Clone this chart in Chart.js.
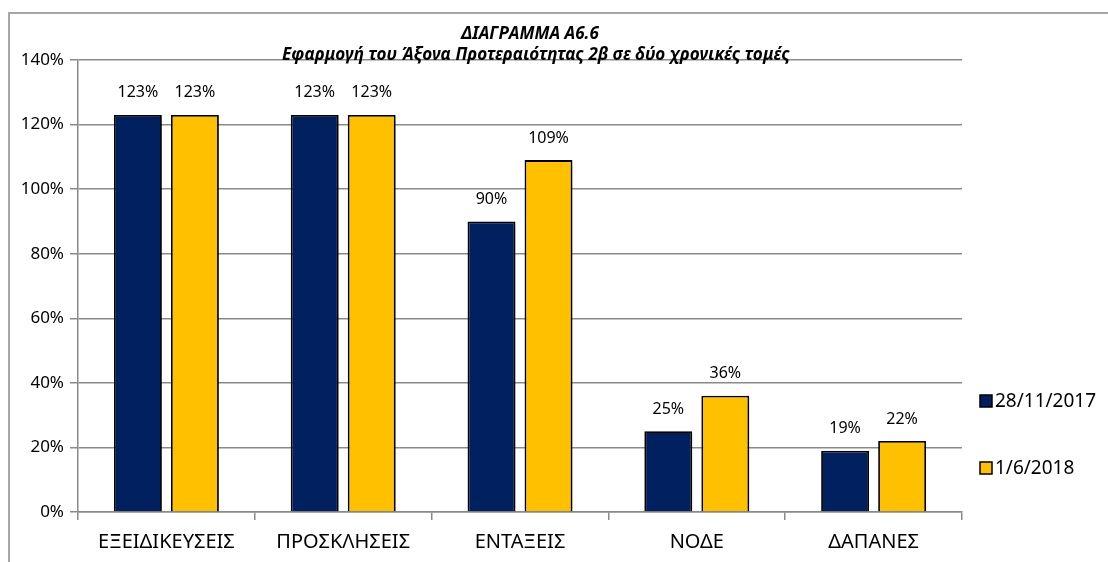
<!DOCTYPE html>
<html>
<head>
<meta charset="utf-8">
<script src="https://cdn.jsdelivr.net/npm/chart.js@4/dist/chart.umd.min.js"></script>
<style>
  html, body { margin: 0; padding: 0; background: #fff; }
  #wrap { width: 1108px; height: 562px; }
</style>
</head>
<body>
<div id="wrap"><canvas id="chart" width="1108" height="562"></canvas></div>
<script>
const categories = ['ΕΞΕΙΔΙΚΕΥΣΕΙΣ', 'ΠΡΟΣΚΛΗΣΕΙΣ', 'ΕΝΤΑΞΕΙΣ', 'ΝΟΔΕ', 'ΔΑΠΑΝΕΣ'];
const seriesNames = ['28/11/2017', '1/6/2018'];
const values2017 = [123, 123, 90, 25, 19];
const values2018 = [123, 123, 109, 36, 22];
const titleLines = ['ΔΙΑΓΡΑΜΜΑ Α6.6', 'Εφαρμογή του Άξονα Προτεραιότητας 2β σε δύο χρονικές τομές'];

const FONT = '"Noto Sans", "Open Sans", sans-serif';
const colors = ['#002060', '#FFC000'];

// frame, title, value labels and legend drawn by hand
const decor = {
  id: 'decor',
  beforeDraw(chart) {
    const ctx = chart.ctx;
    ctx.save();
    ctx.strokeStyle = '#a6a6a6';
    ctx.lineWidth = 2;
    ctx.beginPath();
    ctx.moveTo(9, 562);
    ctx.lineTo(9, 13);
    ctx.lineTo(1108, 13);
    ctx.stroke();
    ctx.restore();
  },
  beforeDatasetsDraw(chart) {
    const ctx = chart.ctx;
    ctx.save();
    ctx.shadowColor = 'rgba(0,0,0,0.3)';
    ctx.shadowBlur = 5;
    ctx.shadowOffsetX = 3;
    ctx.shadowOffsetY = 3;
  },
  afterDatasetsDraw(chart) {
    const ctx = chart.ctx;
    ctx.restore();
    ctx.save();
    ctx.fillStyle = '#000';
    ctx.font = '16px ' + FONT;
    ctx.textAlign = 'center';
    ctx.textBaseline = 'middle';
    chart.data.datasets.forEach((ds, i) => {
      chart.getDatasetMeta(i).data.forEach((bar, j) => {
        ctx.fillText(ds.data[j] + '%', bar.x, bar.y - 22);
      });
    });
    // title
    const cx = (chart.chartArea.left + chart.chartArea.right) / 2 + 16;
    ctx.font = 'italic bold 17px ' + FONT;
    ctx.fillText(titleLines[0], cx - 6, 34);
    ctx.fillText(titleLines[1], cx, 55);
    // legend
    ctx.font = '19px ' + FONT;
    ctx.textAlign = 'left';
    const ys = [401, 468];
    chart.data.datasets.forEach((ds, i) => {
      ctx.fillStyle = ds.backgroundColor;
      ctx.fillRect(980, ys[i] - 6, 12, 12);
      ctx.strokeStyle = '#000';
      ctx.lineWidth = 1.5;
      ctx.strokeRect(980, ys[i] - 6, 12, 12);
      ctx.fillStyle = '#000';
      ctx.fillText(ds.label, 995, ys[i] + 1);
    });
    ctx.restore();
  }
};

new Chart(document.getElementById('chart').getContext('2d'), {
  type: 'bar',
  data: {
    labels: categories,
    datasets: [
      { label: seriesNames[0], data: values2017, backgroundColor: colors[0], borderColor: '#000', borderWidth: 1.8 },
      { label: seriesNames[1], data: values2018, backgroundColor: colors[1], borderColor: '#000', borderWidth: 1.8 }
    ]
  },
  options: {
    responsive: false,
    animation: false,
    events: [],
    datasets: { bar: { categoryPercentage: 0.645, barPercentage: 0.84 } },
    layout: { padding: { left: 8, top: 60, right: 146, bottom: 0 } },
    plugins: { legend: { display: false }, title: { display: false }, tooltip: { enabled: false } },
    scales: {
      x: {
        afterFit: (s) => { s.height = 50; },
        grid: { drawOnChartArea: false, offset: true, color: '#8a8a8a', lineWidth: 1.5, tickLength: 8 },
        border: { color: '#8a8a8a', width: 1.5 },
        ticks: { color: '#000', font: { family: FONT, size: 20 }, padding: 10 }
      },
      y: {
        min: 0,
        max: 140,
        afterFit: (s) => { s.width = 70; },
        grid: { color: '#8a8a8a', lineWidth: 1.5, tickLength: 8 },
        border: { color: '#8a8a8a', width: 1.5 },
        ticks: { stepSize: 20, color: '#000', font: { family: FONT, size: 17 }, padding: 6, callback: (v) => v + '%' }
      }
    }
  },
  plugins: [decor]
});
</script>
</body>
</html>
